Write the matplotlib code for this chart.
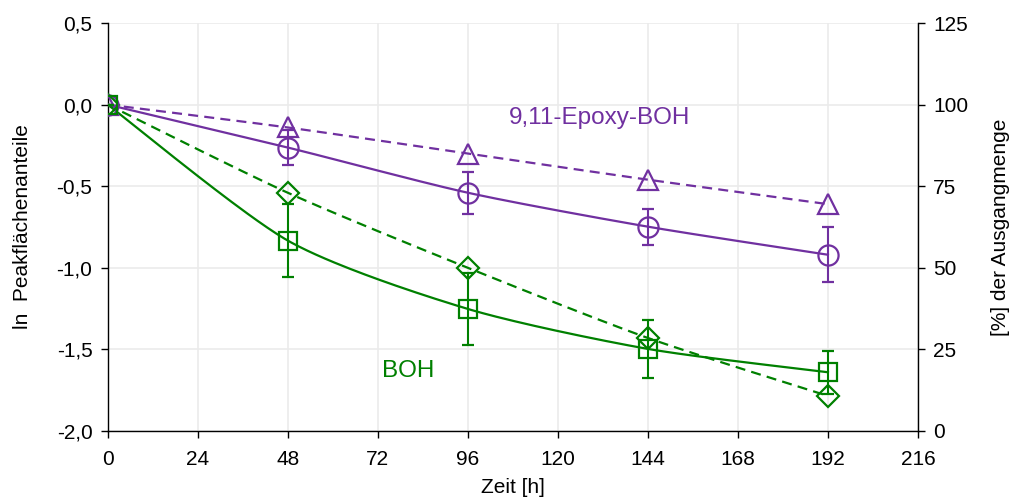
import numpy as np
import matplotlib
matplotlib.use("Agg")
import matplotlib.pyplot as plt

plt.rcParams['font.family'] = ['Liberation Sans', 'DejaVu Sans']

# Zeitpunkte [h]
zeit = [0, 48, 96, 144, 192]

# 9,11-Epoxy-BOH: ln Peakflächenanteile (Kreise) mit Fehlern, Dreiecke gestrichelt
epoxy_ln = [0.0, -0.263, -0.54, -0.748, -0.92]
epoxy_err = [0.0, 0.11, 0.128, 0.11, 0.17]
epoxy_tri = [0.0, -0.14, -0.30, -0.46, -0.61]

# BOH: ln Peakflächenanteile (Quadrate) mit Fehlern, Rauten gestrichelt
boh_ln = [0.0, -0.833, -1.252, -1.497, -1.64]
boh_err = [0.0, 0.225, 0.22, 0.177, 0.133]
boh_dia = [0.0, -0.54, -1.00, -1.43, -1.785]

x_ticks = [0, 24, 48, 72, 96, 120, 144, 168, 192, 216]
y_ticks = [-2.0, -1.5, -1.0, -0.5, 0.0, 0.5]
y2_ticks = [0, 25, 50, 75, 100, 125]

PURPLE = '#7030A0'
GREEN = '#008000'


def smooth(xs, ys, n=40, k=8.0):
    """Glatte Kurve (kardinaler Spline als kubische Bezier-Segmente)."""
    p = np.column_stack([xs, ys]).astype(float)
    ext = np.vstack([p[0], p, p[-1]])
    out = []
    t = np.linspace(0, 1, n)[:, None]
    for i in range(len(p) - 1):
        p0, p1, p2, p3 = ext[i], ext[i + 1], ext[i + 2], ext[i + 3]
        c1 = p1 + (p2 - p0) / k
        c2 = p2 - (p3 - p1) / k
        seg = ((1 - t) ** 3) * p1 + 3 * ((1 - t) ** 2) * t * c1 + 3 * (1 - t) * t ** 2 * c2 + t ** 3 * p2
        out.append(seg if i == 0 else seg[1:])
    out = np.vstack(out)
    return out[:, 0], out[:, 1]


fig = plt.figure(figsize=(10.11, 4.97), dpi=100)
ax = fig.add_axes([0.1065, 0.1328, 0.8015, 0.8209])

lw = 1.6
dash = (4.5, 2.8)
fs = 15

# Linien
sx, sy = smooth(zeit, epoxy_tri)
ax.plot(sx, sy, color=PURPLE, lw=lw, dashes=dash, zorder=3)
sx, sy = smooth(zeit, epoxy_ln)
ax.plot(sx, sy, color=PURPLE, lw=lw, zorder=3)
sx, sy = smooth(zeit, boh_dia)
ax.plot(sx, sy, color=GREEN, lw=lw, dashes=dash, zorder=3)
sx, sy = smooth(zeit, boh_ln)
ax.plot(sx, sy, color=GREEN, lw=lw, zorder=3)

# Messpunkte
mk = dict(linestyle='none', markerfacecolor='none', markeredgewidth=1.6, zorder=4)
ax.plot(zeit, epoxy_tri, marker='^', markersize=14, markeredgecolor=PURPLE, **mk)
ax.plot(zeit, boh_dia, marker='D', markersize=11, markeredgecolor=GREEN, **mk)
ax.errorbar(zeit, epoxy_ln, yerr=epoxy_err, fmt='o', markersize=14.5,
            markerfacecolor='none', markeredgecolor=PURPLE, markeredgewidth=1.6,
            ecolor=PURPLE, elinewidth=1.5, capsize=4.5, capthick=1.5, zorder=4)
ax.errorbar(zeit, boh_ln, yerr=boh_err, fmt='s', markersize=13.5,
            markerfacecolor='none', markeredgecolor=GREEN, markeredgewidth=1.6,
            ecolor=GREEN, elinewidth=1.5, capsize=4.5, capthick=1.5, zorder=4)

ax.set_xlim(0, 216)
ax.set_ylim(-2.0, 0.5)
ax.set_xticks(x_ticks)
ax.set_yticks(y_ticks)
ax.set_yticklabels([f"{v:.1f}".replace('.', ',') for v in y_ticks])
ax.grid(True, color='#EBEBEB', lw=1.2, zorder=0)
ax.set_axisbelow(True)

ax.spines['top'].set_visible(False)
ax.spines['right'].set_visible(False)
for s in ['left', 'bottom']:
    ax.spines[s].set_color('black')
    ax.spines[s].set_linewidth(1.0)

ax.tick_params(axis='both', direction='out', length=5, width=1.0, labelsize=fs, colors='black')
ax.tick_params(axis='y', pad=6)
ax.tick_params(axis='x', pad=9)

ax.set_xlabel('Zeit [h]', fontsize=fs, labelpad=6)
ax.set_ylabel('ln  Peakflächenanteile', fontsize=fs, labelpad=18)

ax2 = ax.twinx()
ax2.set_ylim(0, 125)
ax2.set_yticks(y2_ticks)
for s in ['top', 'left', 'bottom']:
    ax2.spines[s].set_visible(False)
ax2.spines['right'].set_color('black')
ax2.spines['right'].set_linewidth(1.0)
ax2.tick_params(axis='y', direction='out', length=5, width=1.0, labelsize=fs, pad=6)
ax2.set_ylabel('[%] der Ausgangmenge', fontsize=fs, labelpad=16)

ax.text(600 / 1011, 1 - 118 / 497, '9,11-Epoxy-BOH', transform=fig.transFigure,
        color=PURPLE, fontsize=17.5, ha='center', va='center')
ax.text(408 / 1011, 1 - 371 / 497, 'BOH', transform=fig.transFigure,
        color=GREEN, fontsize=17.5, ha='center', va='center')

fig.savefig('out.png', dpi=100)
